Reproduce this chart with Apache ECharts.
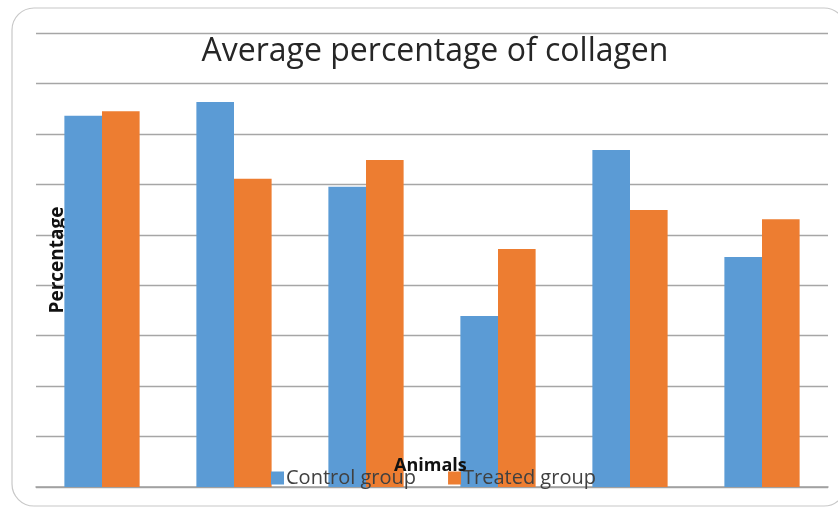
<!DOCTYPE html>
<html><head><meta charset="utf-8">
<script src="https://cdn.jsdelivr.net/npm/echarts@6/dist/echarts.min.js"></script>
<style>html,body{margin:0;padding:0;background:#fff}#c{width:838px;height:509px}</style>
</head><body><div id="c"></div>
<script>
const categories = ['1', '2', '3', '4', '5', '6'];
const controlGroup = [7.36, 7.63, 5.95, 3.39, 6.68, 4.56];
const treatedGroup = [7.45, 6.11, 6.48, 4.72, 5.49, 5.31];
const seriesNames = ['Control group', 'Treated group'];

const chart = echarts.init(document.getElementById('c'));
chart.setOption({
  animation: false,
  backgroundColor: '#fff',
  title: {
    text: 'Average percentage of collagen',
    left: 430, top: 31, textAlign: 'center',
    textStyle: { fontFamily: 'Open Sans', fontSize: 32, fontWeight: 'normal', color: '#262626' }
  },
  graphic: [
    { type: 'rect', shape: { x: 12, y: 8, width: 834, height: 498, r: 22 },
      style: { fill: 'none', stroke: '#c8c8c8', lineWidth: 1.2 }, z: -1 },
    { type: 'text', left: 394, top: 457,
      style: { text: 'Animals', fontFamily: 'Open Sans', fontSize: 18, fontWeight: 'bold', fill: '#111' }, z: 10 }
  ],
  legend: {
    data: seriesNames, left: 266, top: 463, itemGap: 32, itemWidth: 13, itemHeight: 13,
    icon: 'rect',
    textStyle: { fontFamily: 'Open Sans', fontSize: 20, color: '#404040', padding: [0,0,0,-3] }
  },
  grid: { left: 36, right: 10, top: 33, bottom: 22, containLabel: false },
  xAxis: {
    type: 'category', data: categories,
    axisLine: { lineStyle: { color: '#a0a0a0', width: 1.5 } },
    axisTick: { show: false }, axisLabel: { show: false }
  },
  yAxis: {
    type: 'value', min: 0, max: 9, interval: 1,
    name: 'Percentage', nameLocation: 'middle', nameGap: -31,
    nameTextStyle: { fontFamily: 'Open Sans', fontSize: 19, fontWeight: 'bold', color: '#111' },
    axisLine: { show: false }, axisTick: { show: false }, axisLabel: { show: false },
    splitLine: { lineStyle: { color: '#a6a6a6', width: 1.3 } }
  },
  series: [
    { name: seriesNames[0], type: 'bar', data: controlGroup, barGap: '0%', barCategoryGap: '43%',
      itemStyle: { color: '#5b9bd5' } },
    { name: seriesNames[1], type: 'bar', data: treatedGroup,
      itemStyle: { color: '#ed7d31' } }
  ]
});
</script></body></html>
